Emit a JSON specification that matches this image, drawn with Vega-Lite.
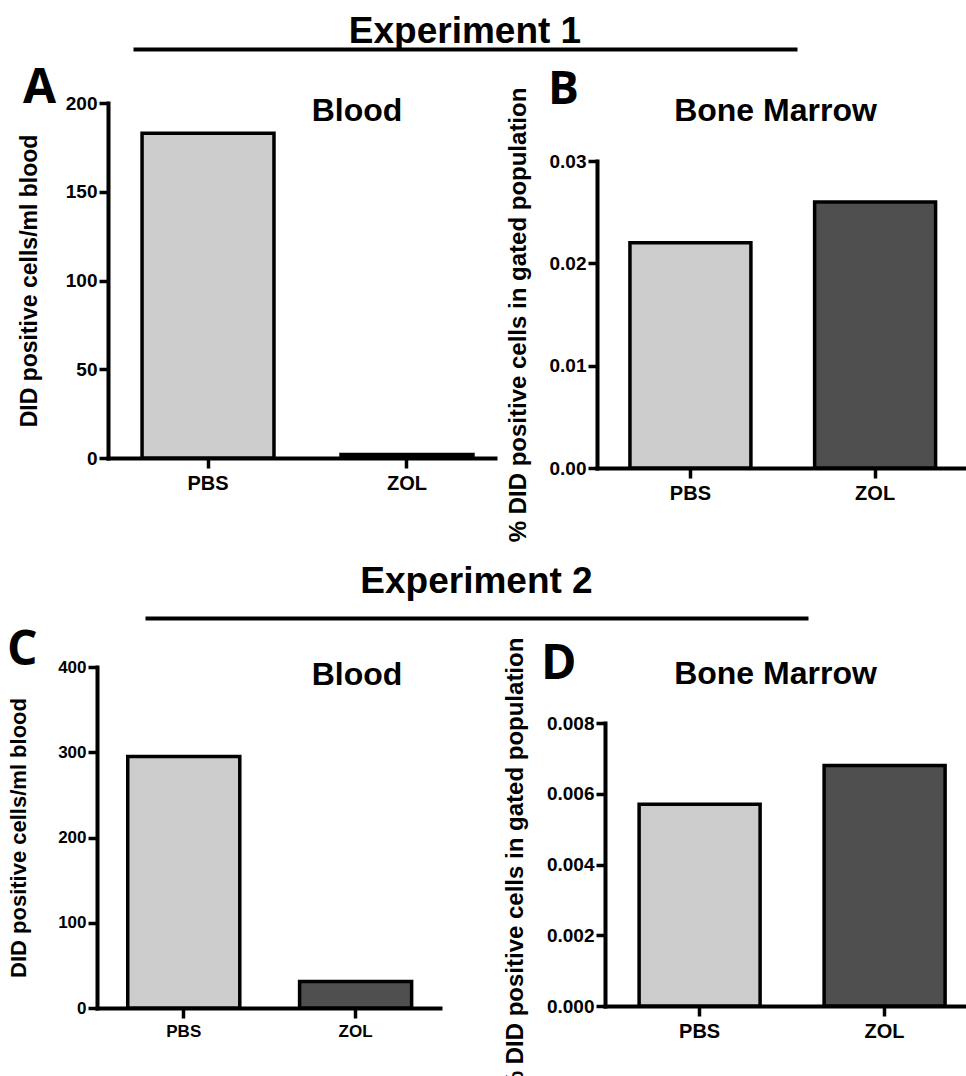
{
  "$schema": "https://vega.github.io/schema/vega-lite/v6.json",
  "padding": {"left": 7, "top": 13, "right": 0, "bottom": 0},
  "background": "white",
  "columns": 2,
  "spacing": {"row": 49, "column": 102},
  "bounds": "flush",
  "config": {
    "view": {"stroke": null},
    "axis": {
      "domainColor": "black", "domainWidth": 4, "domainCap": "square",
      "tickColor": "black", "tickWidth": 3.5, "tickSize": 9,
      "labelColor": "black", "labelFont": "Liberation Sans", "labelFontWeight": "bold", "labelFontSize": 19, "labelPadding": 2,
      "titleColor": "black", "titleFont": "Liberation Sans", "titleFontWeight": "bold", "titleFontSize": 23,
      "grid": false
    },
    "axisX": {"labelAngle": 0, "tickSize": 10, "labelPadding": 5, "labelFontSize": 20, "domainWidth": 4, "tickWidth": 3.5},
    "axisY": {"domainWidth": 4, "tickWidth": 3.5}
  },
  "concat": [
    {
      "width": 398, "height": 22,
      "data": {"values": [{"label": "Experiment 1"}]},
      "mark": {"type": "text", "align": "center", "baseline": "alphabetic", "font": "Liberation Sans", "fontWeight": "bold", "fontSize": 37, "color": "black"},
      "encoding": {
        "text": {"field": "label", "type": "nominal"},
        "x": {"datum": 0.5, "type": "quantitative", "scale": {"domain": [0, 1], "range": [36, 700]},
              "axis": {"title": null, "labels": false, "ticks": false, "offset": -5, "domainCap": "butt", "domainWidth": 4}}
      }
    },
    {"width": 10, "height": 10, "data": {"values": []}, "mark": "text"},
    {
      "width": 398, "height": 355,
      "layer": [
        {
          "data": {"values": [{"group": "PBS", "value": 183}, {"group": "ZOL", "value": 2}]},
          "mark": {"type": "bar", "stroke": "black", "strokeWidth": 3.5},
          "encoding": {
            "x": {"field": "group", "type": "nominal", "scale": {"range": [11, 398], "paddingInner": 0.337, "paddingOuter": 0.141, "align": 0.607}, "axis": {"title": null, "domainWidth": 4, "tickWidth": 3.5}},
            "y": {"field": "value", "type": "quantitative", "scale": {"domain": [0, 200], "nice": false},
                  "axis": {"values": [0, 50, 100, 150, 200], "title": "DID positive cells/ml blood", "titlePadding": 23.5, "offset": -11, "domainWidth": 4, "tickWidth": 3.5}},
            "color": {"field": "group", "type": "nominal", "scale": {"domain": ["PBS", "ZOL"], "range": ["#cccccc", "#4f4f4f"]}, "legend": null}
          }
        },
        {
          "data": {"values": [{"label": "Blood"}]},
          "mark": {"type": "text", "align": "center", "baseline": "alphabetic", "dx": 61, "dy": -159.5, "font": "Liberation Sans", "fontWeight": "bold", "fontSize": 32, "color": "black"},
          "encoding": {"text": {"field": "label", "type": "nominal"}}
        },
        {
          "data": {"values": [{"label": "A"}]},
          "mark": {"type": "text", "align": "left", "baseline": "alphabetic", "dx": -273, "dy": -177.5, "font": "Open Sans", "fontWeight": "bold", "fontSize": 48, "color": "black"},
          "encoding": {"text": {"field": "label", "type": "nominal"}}
        }
      ]
    },
    {
      "width": 369, "height": 365,
      "layer": [
        {
          "data": {"values": [{"group": "PBS", "value": 0.022}, {"group": "ZOL", "value": 0.026}]},
          "mark": {"type": "bar", "stroke": "black", "strokeWidth": 3.5},
          "encoding": {
            "x": {"field": "group", "type": "nominal", "scale": {"paddingInner": 0.345, "paddingOuter": 0.1715, "align": 0.52}, "axis": {"title": null, "domainWidth": 4, "tickWidth": 3.5}},
            "y": {"field": "value", "type": "quantitative", "scale": {"domain": [0, 0.03], "nice": false, "range": [365, 58]},
                  "axis": {"values": [0, 0.01, 0.02, 0.03], "format": ".2f", "title": "% DID positive cells in gated population", "titleFontSize": 24, "titlePadding": 19, "domainWidth": 4, "tickWidth": 3.5}},
            "color": {"field": "group", "type": "nominal", "scale": {"domain": ["PBS", "ZOL"], "range": ["#cccccc", "#4f4f4f"]}, "legend": null}
          }
        },
        {
          "data": {"values": [{"label": "Bone Marrow"}]},
          "mark": {"type": "text", "align": "center", "baseline": "alphabetic", "dx": -6, "dy": -164.5, "font": "Liberation Sans", "fontWeight": "bold", "fontSize": 32, "color": "black"},
          "encoding": {"text": {"field": "label", "type": "nominal"}}
        },
        {
          "data": {"values": [{"label": "B"}]},
          "mark": {"type": "text", "align": "left", "baseline": "alphabetic", "dx": -233.5, "dy": -181.5, "font": "Open Sans", "fontWeight": "bold", "fontSize": 46, "color": "black"},
          "encoding": {"text": {"field": "label", "type": "nominal"}}
        }
      ]
    },
    {
      "width": 398, "height": 101,
      "data": {"values": [{"label": "Experiment 2"}]},
      "mark": {"type": "text", "align": "center", "baseline": "alphabetic", "dy": 25.5, "font": "Liberation Sans", "fontWeight": "bold", "fontSize": 37, "color": "black"},
      "encoding": {
        "text": {"field": "label", "type": "nominal"},
        "x": {"datum": 0.5, "type": "quantitative", "scale": {"domain": [0, 1], "range": [48, 711]},
              "axis": {"title": null, "labels": false, "ticks": false, "offset": 0, "domainCap": "butt", "domainWidth": 4}}
      }
    },
    {"width": 10, "height": 10, "data": {"values": []}, "mark": "text"},
    {
      "width": 343, "height": 341,
      "layer": [
        {
          "data": {"values": [{"group": "PBS", "value": 295}, {"group": "ZOL", "value": 31}]},
          "mark": {"type": "bar", "stroke": "black", "strokeWidth": 3.5},
          "encoding": {
            "x": {"field": "group", "type": "nominal", "scale": {"paddingInner": 0.348, "paddingOuter": 0.172, "align": 0.52}, "axis": {"title": null, "labelFontSize": 17, "domainWidth": 4, "tickWidth": 3.5}},
            "y": {"field": "value", "type": "quantitative", "scale": {"domain": [0, 400], "nice": false},
                  "axis": {"values": [0, 100, 200, 300, 400], "title": "DID positive cells/ml blood", "titleFontSize": 22, "titlePadding": 27, "labelFontSize": 17, "domainWidth": 4, "tickWidth": 3.5}},
            "color": {"field": "group", "type": "nominal", "scale": {"domain": ["PBS", "ZOL"], "range": ["#cccccc", "#4f4f4f"]}, "legend": null}
          }
        },
        {
          "data": {"values": [{"label": "Blood"}]},
          "mark": {"type": "text", "align": "center", "baseline": "alphabetic", "dx": 88.5, "dy": -152.5, "font": "Liberation Sans", "fontWeight": "bold", "fontSize": 32, "color": "black"},
          "encoding": {"text": {"field": "label", "type": "nominal"}}
        },
        {
          "data": {"values": [{"label": "C"}]},
          "mark": {"type": "text", "align": "left", "baseline": "alphabetic", "dx": -261.5, "dy": -172.5, "font": "Open Sans", "fontWeight": "bold", "fontSize": 48, "color": "black"},
          "encoding": {"text": {"field": "label", "type": "nominal"}}
        }
      ]
    },
    {
      "width": 369, "height": 339,
      "layer": [
        {
          "data": {"values": [{"group": "PBS", "value": 0.0057}, {"group": "ZOL", "value": 0.0068}]},
          "mark": {"type": "bar", "stroke": "black", "strokeWidth": 3.5},
          "encoding": {
            "x": {"field": "group", "type": "nominal", "scale": {"range": [8, 369], "paddingInner": 0.346, "paddingOuter": 0.1487, "align": 0.62}, "axis": {"title": null, "domainWidth": 4, "tickWidth": 3.5}},
            "y": {"field": "value", "type": "quantitative", "scale": {"domain": [0, 0.008], "nice": false, "range": [339, 56]},
                  "axis": {"values": [0, 0.002, 0.004, 0.006, 0.008], "format": ".3f", "title": "% DID positive cells in gated population", "titleFontSize": 24, "titlePadding": 18.5, "offset": -8, "domainWidth": 4, "tickWidth": 3.5}},
            "color": {"field": "group", "type": "nominal", "scale": {"domain": ["PBS", "ZOL"], "range": ["#cccccc", "#4f4f4f"]}, "legend": null}
          }
        },
        {
          "data": {"values": [{"label": "Bone Marrow"}]},
          "mark": {"type": "text", "align": "center", "baseline": "alphabetic", "dx": -6, "dy": -152.5, "font": "Liberation Sans", "fontWeight": "bold", "fontSize": 32, "color": "black"},
          "encoding": {"text": {"field": "label", "type": "nominal"}}
        },
        {
          "data": {"values": [{"label": "D"}]},
          "mark": {"type": "text", "align": "left", "baseline": "alphabetic", "dx": -240.5, "dy": -157.5, "font": "Open Sans", "fontWeight": "bold", "fontSize": 48, "color": "black"},
          "encoding": {"text": {"field": "label", "type": "nominal"}}
        }
      ]
    }
  ]
}
